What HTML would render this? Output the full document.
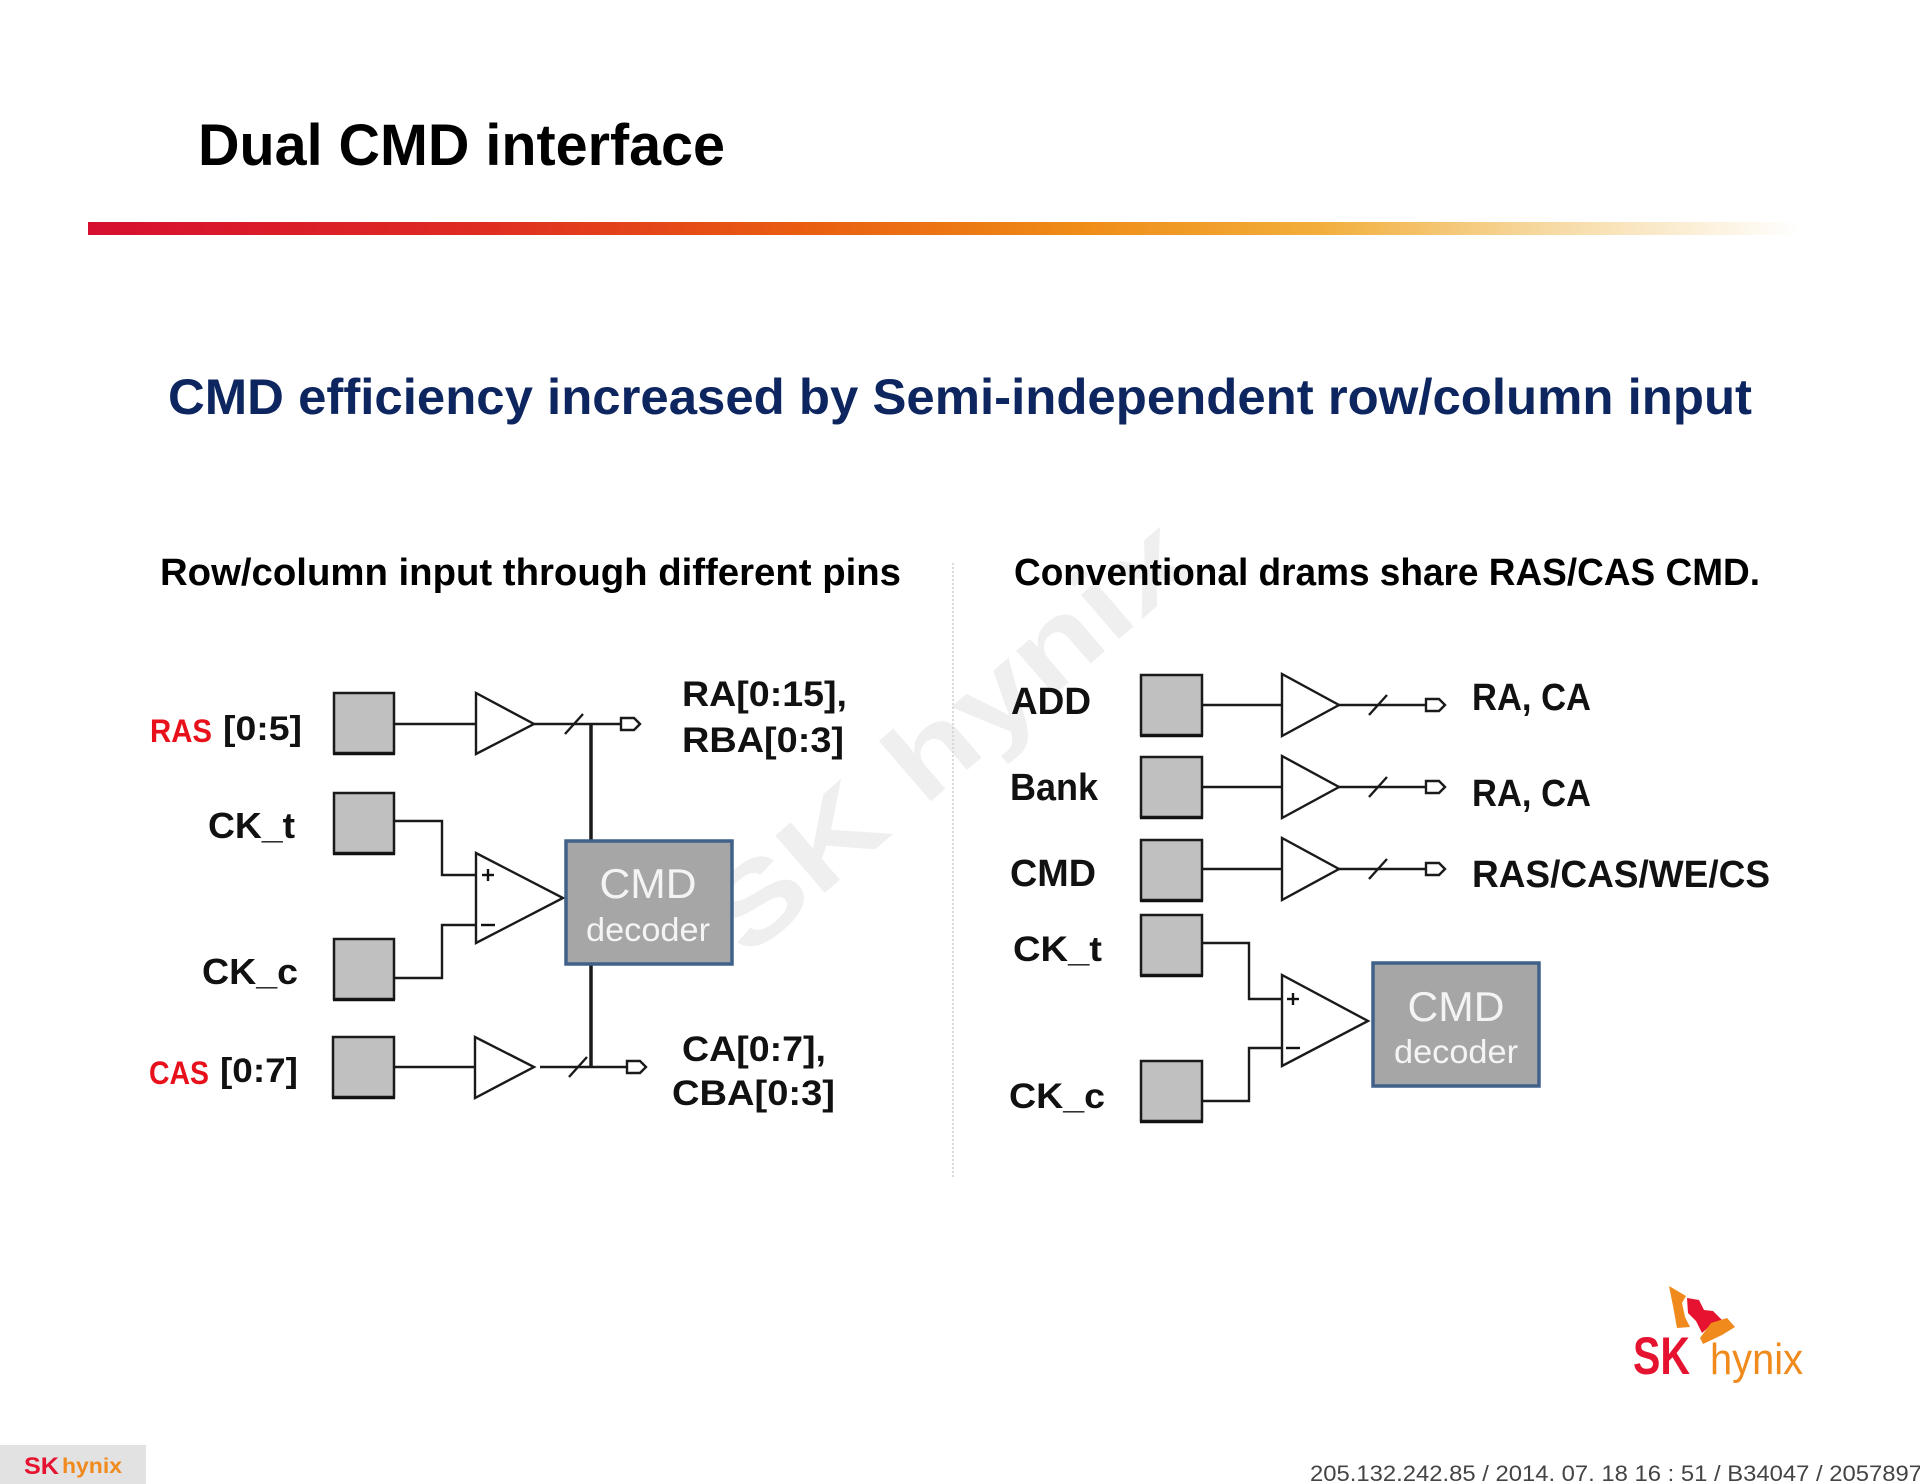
<!DOCTYPE html>
<html><head><meta charset="utf-8"><style>
html,body{margin:0;padding:0;background:#fff;}
svg{display:block;}
text{font-family:"Liberation Sans",Arial,sans-serif;}
</style></head><body>
<svg width="1920" height="1484" viewBox="0 0 1920 1484" xmlns="http://www.w3.org/2000/svg">
<defs>
<linearGradient id="bar" x1="0" y1="0" x2="1" y2="0">
<stop offset="0" stop-color="#d60f30"/>
<stop offset="0.22" stop-color="#de2a22"/>
<stop offset="0.42" stop-color="#e95e10"/>
<stop offset="0.58" stop-color="#ef8c17"/>
<stop offset="0.72" stop-color="#f2ae3c"/>
<stop offset="0.85" stop-color="#f6d9a0"/>
<stop offset="1" stop-color="#ffffff"/>
</linearGradient>
</defs>
<rect width="1920" height="1484" fill="#fff"/>

<!-- watermark (behind everything) -->
<text x="948" y="774" transform="rotate(-40.8 948 735)" text-anchor="middle" font-size="110" font-weight="bold" fill="#efefef" textLength="598" lengthAdjust="spacingAndGlyphs">SK hynix</text>

<!-- title -->
<text x="198" y="165" font-size="58" font-weight="bold" fill="#000" textLength="527" lengthAdjust="spacingAndGlyphs">Dual CMD interface</text>
<rect x="88" y="222" width="1712" height="13" fill="url(#bar)"/>

<!-- subtitle -->
<text x="168" y="414" font-size="50" font-weight="bold" fill="#0e2660" textLength="1584" lengthAdjust="spacingAndGlyphs">CMD efficiency increased by Semi-independent row/column input</text>

<text x="160" y="585" font-size="38" font-weight="bold" fill="#000" textLength="741" lengthAdjust="spacingAndGlyphs">Row/column input through different pins</text>
<text x="1014" y="585" font-size="38" font-weight="bold" fill="#000" textLength="746" lengthAdjust="spacingAndGlyphs">Conventional drams share RAS/CAS CMD.</text>

<!-- divider -->
<line x1="953" y1="563" x2="953" y2="1179" stroke="#cfcfcf" stroke-width="1.5" stroke-dasharray="2 2"/>

<!-- ============ LEFT DIAGRAM ============ -->
<g stroke="#1a1a1a" fill="none" stroke-width="2.4">
  <line x1="394" y1="724" x2="476" y2="724"/>
  <line x1="534" y1="724" x2="621" y2="724"/>
  <line x1="565" y1="734" x2="583" y2="714"/>
  <line x1="394" y1="1067" x2="475" y2="1067"/>
  <line x1="540" y1="1067" x2="627" y2="1067"/>
  <line x1="569" y1="1077" x2="587" y2="1057"/>
  <polyline points="394,821 442,821 442,875 490,875"/>
  <polyline points="394,978 442,978 442,925 490,925"/>
</g>
<g stroke="#1a1a1a" stroke-width="3.5" fill="none">
  <line x1="591" y1="724" x2="591" y2="840"/>
  <line x1="591" y1="965" x2="591" y2="1067"/>
</g>
<g fill="#c0c0c0" stroke="#1a1a1a" stroke-width="2.5">
  <rect x="334" y="693" width="60" height="60"/>
  <rect x="334" y="793" width="60" height="60"/>
  <rect x="334" y="939" width="60" height="60"/>
  <rect x="333" y="1037" width="61" height="60"/>
</g>
<g stroke="#111" stroke-width="2.5">
  <line x1="333" y1="754" x2="395" y2="754"/>
  <line x1="333" y1="854" x2="395" y2="854"/>
  <line x1="333" y1="1000" x2="395" y2="1000"/>
  <line x1="332" y1="1098" x2="395" y2="1098"/>
</g>
<g fill="#fff" stroke="#1a1a1a" stroke-width="2.4">
  <polygon points="476,693 476,754 534,724"/>
  <polygon points="475,1037 475,1098 534,1067"/>
  <polygon points="476,853 476,943 563,898"/>
  <polygon points="621,718 634,718 640,724 634,730 621,730"/>
  <polygon points="627,1061 640,1061 646,1067 640,1073 627,1073"/>
</g>
<g stroke="#111" stroke-width="2.4">
  <line x1="482" y1="875" x2="494" y2="875"/><line x1="488" y1="869" x2="488" y2="881"/>
  <line x1="481" y1="925" x2="495" y2="925"/>
</g>
<rect x="566" y="841" width="166" height="123" fill="#a6a6a6" stroke="#41618a" stroke-width="3.5"/>
<text x="648" y="898" text-anchor="middle" font-size="42" fill="#f4f4f4" textLength="97" lengthAdjust="spacingAndGlyphs">CMD</text>
<text x="648" y="941" text-anchor="middle" font-size="33" fill="#f4f4f4" textLength="124" lengthAdjust="spacingAndGlyphs">decoder</text>

<text x="150" y="742" font-size="32" font-weight="bold" fill="#e8101a" textLength="62" lengthAdjust="spacingAndGlyphs">RAS</text>
<text x="223" y="740" font-size="34" font-weight="bold" fill="#111" textLength="79" lengthAdjust="spacingAndGlyphs">[0:5]</text>
<text x="208" y="838" font-size="36" font-weight="bold" fill="#111" textLength="87" lengthAdjust="spacingAndGlyphs">CK_t</text>
<text x="202" y="984" font-size="36" font-weight="bold" fill="#111" textLength="96" lengthAdjust="spacingAndGlyphs">CK_c</text>
<text x="149" y="1084" font-size="32" font-weight="bold" fill="#e8101a" textLength="60" lengthAdjust="spacingAndGlyphs">CAS</text>
<text x="220" y="1082" font-size="34" font-weight="bold" fill="#111" textLength="78" lengthAdjust="spacingAndGlyphs">[0:7]</text>

<text x="682" y="706" font-size="35" font-weight="bold" fill="#111" textLength="165" lengthAdjust="spacingAndGlyphs">RA[0:15],</text>
<text x="682" y="752" font-size="35" font-weight="bold" fill="#111" textLength="162" lengthAdjust="spacingAndGlyphs">RBA[0:3]</text>
<text x="682" y="1061" font-size="35" font-weight="bold" fill="#111" textLength="144" lengthAdjust="spacingAndGlyphs">CA[0:7],</text>
<text x="672" y="1105" font-size="35" font-weight="bold" fill="#111" textLength="163" lengthAdjust="spacingAndGlyphs">CBA[0:3]</text>

<!-- ============ RIGHT DIAGRAM ============ -->
<g stroke="#1a1a1a" fill="none" stroke-width="2.4">
  <line x1="1202" y1="705" x2="1282" y2="705"/>
  <line x1="1339" y1="705" x2="1426" y2="705"/>
  <line x1="1369" y1="715" x2="1387" y2="695"/>
  <line x1="1202" y1="787" x2="1282" y2="787"/>
  <line x1="1339" y1="787" x2="1426" y2="787"/>
  <line x1="1369" y1="797" x2="1387" y2="777"/>
  <line x1="1202" y1="869" x2="1282" y2="869"/>
  <line x1="1339" y1="869" x2="1426" y2="869"/>
  <line x1="1369" y1="879" x2="1387" y2="859"/>
  <polyline points="1202,943 1249,943 1249,999 1296,999"/>
  <polyline points="1202,1101 1249,1101 1249,1048 1296,1048"/>
</g>
<g fill="#c0c0c0" stroke="#1a1a1a" stroke-width="2.5">
  <rect x="1141" y="675" width="61" height="60"/>
  <rect x="1141" y="757" width="61" height="60"/>
  <rect x="1141" y="840" width="61" height="60"/>
  <rect x="1141" y="915" width="61" height="60"/>
  <rect x="1141" y="1061" width="61" height="60"/>
</g>
<g stroke="#111" stroke-width="2.5">
  <line x1="1140" y1="736" x2="1203" y2="736"/>
  <line x1="1140" y1="818" x2="1203" y2="818"/>
  <line x1="1140" y1="901" x2="1203" y2="901"/>
  <line x1="1140" y1="976" x2="1203" y2="976"/>
  <line x1="1140" y1="1122" x2="1203" y2="1122"/>
</g>
<g fill="#fff" stroke="#1a1a1a" stroke-width="2.4">
  <polygon points="1282,674 1282,736 1339,705"/>
  <polygon points="1282,756 1282,818 1339,787"/>
  <polygon points="1282,838 1282,900 1339,869"/>
  <polygon points="1282,975 1282,1066 1368,1021"/>
  <polygon points="1426,699 1439,699 1445,705 1439,711 1426,711"/>
  <polygon points="1426,781 1439,781 1445,787 1439,793 1426,793"/>
  <polygon points="1426,863 1439,863 1445,869 1439,875 1426,875"/>
</g>
<g stroke="#111" stroke-width="2.4">
  <line x1="1287" y1="999" x2="1299" y2="999"/><line x1="1293" y1="993" x2="1293" y2="1005"/>
  <line x1="1286" y1="1048" x2="1300" y2="1048"/>
</g>
<rect x="1373" y="963" width="166" height="123" fill="#a6a6a6" stroke="#41618a" stroke-width="3.5"/>
<text x="1456" y="1021" text-anchor="middle" font-size="42" fill="#f4f4f4" textLength="97" lengthAdjust="spacingAndGlyphs">CMD</text>
<text x="1456" y="1063" text-anchor="middle" font-size="33" fill="#f4f4f4" textLength="124" lengthAdjust="spacingAndGlyphs">decoder</text>

<text x="1011" y="714" font-size="38" font-weight="bold" fill="#111" textLength="80" lengthAdjust="spacingAndGlyphs">ADD</text>
<text x="1010" y="800" font-size="38" font-weight="bold" fill="#111" textLength="88" lengthAdjust="spacingAndGlyphs">Bank</text>
<text x="1010" y="886" font-size="38" font-weight="bold" fill="#111" textLength="86" lengthAdjust="spacingAndGlyphs">CMD</text>
<text x="1013" y="961" font-size="35" font-weight="bold" fill="#111" textLength="89" lengthAdjust="spacingAndGlyphs">CK_t</text>
<text x="1009" y="1108" font-size="35" font-weight="bold" fill="#111" textLength="96" lengthAdjust="spacingAndGlyphs">CK_c</text>

<text x="1472" y="710" font-size="38" font-weight="bold" fill="#111" textLength="119" lengthAdjust="spacingAndGlyphs">RA, CA</text>
<text x="1472" y="806" font-size="38" font-weight="bold" fill="#111" textLength="119" lengthAdjust="spacingAndGlyphs">RA, CA</text>
<text x="1472" y="887" font-size="38" font-weight="bold" fill="#111" textLength="298" lengthAdjust="spacingAndGlyphs">RAS/CAS/WE/CS</text>

<!-- SK hynix logo bottom right -->
<polygon points="1669,1286 1686,1296 1682,1303 1685,1317 1690,1327 1677,1328 1673,1306" fill="#f08a1c"/>
<polygon points="1687,1298 1699,1300 1704,1310 1713,1311 1727,1325 1712,1324 1702,1333 1696,1321 1688,1313" fill="#e5132f"/>
<polygon points="1700,1338 1711,1323 1727,1318 1735,1327 1722,1335 1703,1344" fill="#f08a1c"/>
<text x="1633" y="1374" font-size="53" font-weight="bold" fill="#e5132f" textLength="57" lengthAdjust="spacingAndGlyphs">SK</text>
<text x="1710" y="1374" font-size="44" fill="#f08a1c" textLength="93" lengthAdjust="spacingAndGlyphs">hynix</text>

<!-- bottom-left badge -->
<rect x="0" y="1445" width="146" height="39" fill="#e2e2e2"/>
<text x="24" y="1474" font-size="24" font-weight="bold" fill="#e5132f" textLength="35" lengthAdjust="spacingAndGlyphs">SK</text>
<text x="62" y="1473" font-size="21" font-weight="bold" fill="#f08a1c" textLength="60" lengthAdjust="spacingAndGlyphs">hynix</text>

<!-- footer -->
<text x="1310" y="1481" font-size="22" fill="#444" textLength="612" lengthAdjust="spacingAndGlyphs">205.132.242.85 / 2014. 07. 18  16 : 51 / B34047 / 2057897</text>
</svg>
</body></html>
